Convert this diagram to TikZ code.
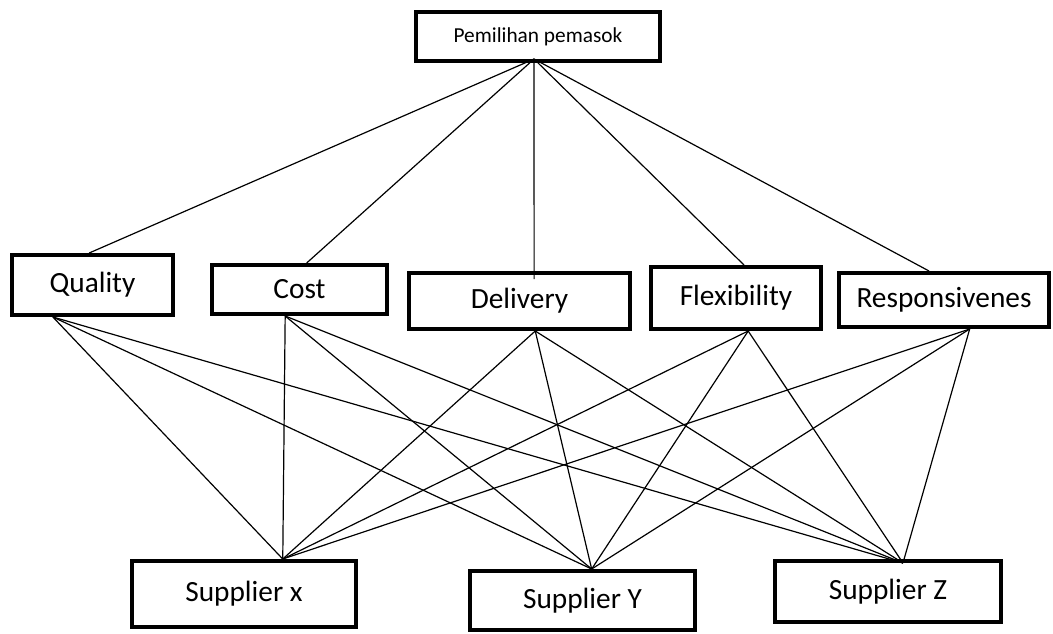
\documentclass[tikz,border=0pt]{standalone}
\usepackage{fontspec}
\setmainfont{Carlito}
\usetikzlibrary{calc}

\tikzset{every picture/.style={line width=0.75pt}}
\tikzset{
  box/.style={draw, line width=3pt, inner sep=0pt, font=\fontsize{22}{26}\selectfont},
  link/.style={line width=0.9pt}
}

\begin{document}
\begin{tikzpicture}[x=0.75pt,y=0.75pt,yscale=-1,xscale=1]
	\useasboundingbox (0,0) rectangle (1053,633);
	
	% Goal
	\node [box, minimum width=183pt, minimum height=36.75pt, font=\fontsize{16}{19}\selectfont] (goal) at (538,36.5) {Pemilihan pemasok};
	
	% Criteria
	\node [box, minimum width=120.75pt, minimum height=45pt] (qual) at (92.5,285) {Quality};
	\node [box, minimum width=131.25pt, minimum height=36.75pt] (cost) at (299.5,289.5) {Cost};
	\node [box, minimum width=165.75pt, minimum height=42pt] (deliv) at (519.5,301) {Delivery};
	\node [box, minimum width=127.5pt, minimum height=46.5pt] (flex) at (736,298) {Flexibility};
	\node [box, minimum width=157.5pt, minimum height=40.5pt] (resp) at (944,300) {Responsivenes};
	
	% Alternatives
	\node [box, minimum width=168pt, minimum height=49.5pt] (supx) at (244,594) {Supplier x};
	\node [box, minimum width=168.75pt, minimum height=44.25pt] (supy) at (582.5,600.5) {Supplier Y};
	\node [box, minimum width=169.5pt, minimum height=45.75pt] (supz) at (888,591.5) {Supplier Z};
	
	% Ports
	\coordinate (goal-dn) at ([yshift=-3pt]$(goal.south west)!0.484!(goal.south east)$);
	\coordinate (qual-up) at ($(qual.north west)!0.48!(qual.north east)$);
	\coordinate (qual-dn) at ($(qual.south west)!0.26!(qual.south east)$);
	\coordinate (cost-up) at ($(cost.north west)!0.54!(cost.north east)$);
	\coordinate (cost-dn) at ($(cost.south west)!0.42!(cost.south east)$);
	\coordinate (deliv-up) at ([yshift=6pt]$(deliv.north west)!0.565!(deliv.north east)$);
	\coordinate (deliv-dn) at ($(deliv.south west)!0.57!(deliv.south east)$);
	\coordinate (flex-up) at ($(flex.north west)!0.546!(flex.north east)$);
	\coordinate (flex-dn) at ($(flex.south west)!0.57!(flex.south east)$);
	\coordinate (resp-up) at ($(resp.north west)!0.43!(resp.north east)$);
	\coordinate (resp-dn) at ($(resp.south west)!0.62!(resp.south east)$);
	\coordinate (supx-up) at ($(supx.north west)!0.67!(supx.north east)$);
	\coordinate (supy-up) at ($(supy.north west)!0.54!(supy.north east)$);
	\coordinate (supz-up) at ([yshift=3pt]$(supz.north west)!0.565!(supz.north east)$);
	
	%Straight Lines goal to criteria
	\draw [link] (goal-dn) -- (qual-up) ;
	\draw [link] (goal-dn) -- (cost-up) ;
	\draw [link] (goal-dn) -- (deliv-up) ;
	\draw [link] (goal-dn) -- (flex-up) ;
	\draw [link] (goal-dn) -- (resp-up) ;
	
	%Straight Lines Quality
	\draw [link] (qual-dn) -- (supx-up) ;
	\draw [link] (qual-dn) -- (supy-up) ;
	\draw [link] (qual-dn) -- (supz-up) ;
	%Straight Lines Cost
	\draw [link] (cost-dn) -- (supx-up) ;
	\draw [link] (cost-dn) -- (supy-up) ;
	\draw [link] (cost-dn) -- (supz-up) ;
	%Straight Lines Delivery
	\draw [link] (deliv-dn) -- (supx-up) ;
	\draw [link] (deliv-dn) -- (supy-up) ;
	\draw [link] (deliv-dn) -- (supz-up) ;
	%Straight Lines Flexibility
	\draw [link] (flex-dn) -- (supx-up) ;
	\draw [link] (flex-dn) -- (supy-up) ;
	\draw [link] (flex-dn) -- (supz-up) ;
	%Straight Lines Responsivenes
	\draw [link] (resp-dn) -- (supx-up) ;
	\draw [link] (resp-dn) -- (supy-up) ;
	\draw [link] (resp-dn) -- (supz-up) ;
	
\end{tikzpicture}
\end{document}
